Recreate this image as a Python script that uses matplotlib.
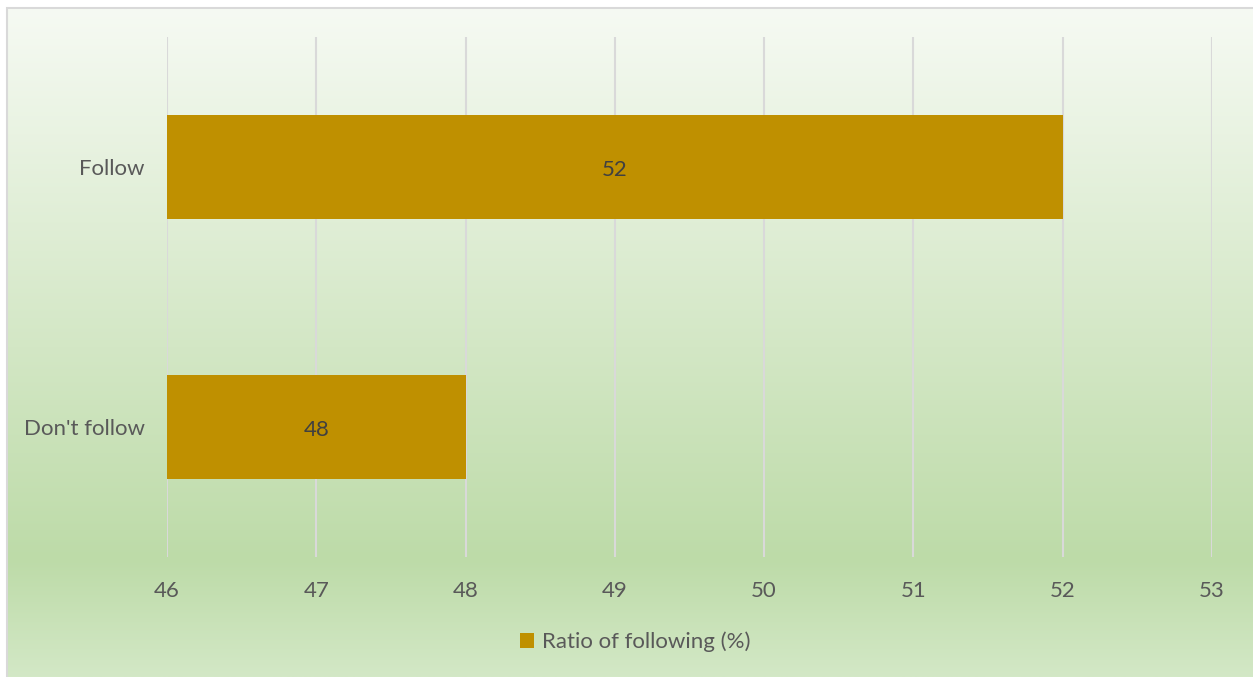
import matplotlib
matplotlib.use("Agg")
import matplotlib.pyplot as plt
import numpy as np
from matplotlib.patches import Rectangle

categories = ["Don't follow", "Follow"]
values = [48, 52]
series_name = "Ratio of following (%)"
xticks = [46, 47, 48, 49, 50, 51, 52, 53]

W, H = 1253, 677
fig = plt.figure(figsize=(W / 100, H / 100), dpi=100)
fig.patch.set_facecolor("white")
plt.rcParams['font.family'] = ['Lato', 'DejaVu Sans']

# background gradient
bg = fig.add_axes([8 / W, 0, 1 - 8 / W, 1 - 9 / H], zorder=-5)
bg.set_axis_off()
n = 400
t = np.linspace(0, 1, n)  # 0 top -> 1 bottom
top = np.array([246, 250, 243]) / 255
mid = np.array([189, 219, 168]) / 255
bot = np.array([211, 232, 198]) / 255
split = (560 - 9) / (677 - 9)
cols = np.zeros((n, 3))
for i, v in enumerate(t):
    if v <= split:
        f = v / split
        cols[i] = top * (1 - f) + mid * f
    else:
        f = (v - split) / (1 - split)
        cols[i] = mid * (1 - f) + bot * f
img = np.repeat(cols[:, None, :], 2, axis=1)
bg.imshow(img, aspect="auto", extent=[0, 1, 0, 1], origin="upper")
bg.set_xlim(0, 1)
bg.set_ylim(0, 1)
fig.add_artist(Rectangle((7 / W, -0.01), 1.0, 1 - 8 / H + 0.01, transform=fig.transFigure,
                         fill=False, edgecolor="#D9D9D9", linewidth=1.5, zorder=-4))

ax = fig.add_axes([167 / W, 1 - 557 / H, (1212 - 167) / W, (557 - 37) / H])
ax.set_facecolor("none")
ypos = np.arange(len(categories))
bars = ax.barh(ypos, [v - 46 for v in values], left=46, height=0.4, color="#BF9000",
               label=series_name, zorder=3)
for y, v in zip(ypos, values):
    ax.annotate(f"{v}", xy=((46 + v) / 2, y), xytext=(0, -3), textcoords="offset pixels",
                ha="center", va="center", fontsize=16, color="#404040", zorder=4)

ax.set_xlim(46, 53)
ax.set_ylim(-0.5, 1.5)
ax.set_xticks(xticks)
ax.set_xticklabels([str(x) for x in xticks])
ax.set_yticks(ypos)
ax.set_yticklabels(categories)
ax.tick_params(axis="both", length=0, labelsize=16, labelcolor="#595959")
ax.tick_params(axis="x", pad=17)
ax.tick_params(axis="y", pad=16)
ax.grid(axis="x", color="#D9D9D9", linewidth=1.5, zorder=0)
for s in ax.spines.values():
    s.set_visible(False)

leg = fig.legend(handles=[bars], labels=[series_name], loc="center",
                 bbox_to_anchor=(635 / W, 1 - 642 / H), frameon=False,
                 fontsize=16, handlelength=0.65, handleheight=0.65, handletextpad=0.35)
for txt in leg.get_texts():
    txt.set_color("#595959")

fig.savefig("out.png", dpi=100)
